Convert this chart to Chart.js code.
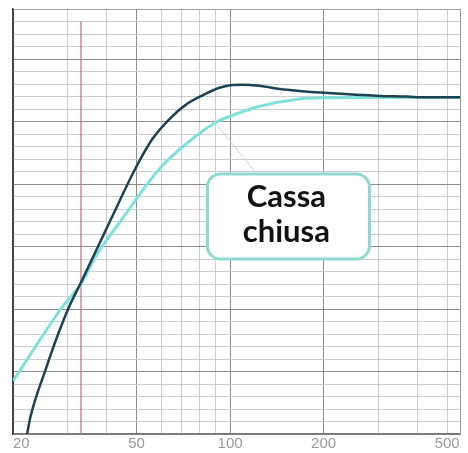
<!DOCTYPE html>
<html lang="it">
<head>
  <meta charset="UTF-8" />
  <title>Cassa chiusa</title>
  <script src="https://cdn.jsdelivr.net/npm/chart.js"></script>
  <style>
    html, body { margin: 0; padding: 0; background: #fff; }
    #wrap { width: 468px; height: 453px; }
  </style>
</head>
<body>
  <div id="wrap"><canvas id="chart" width="468" height="453"></canvas></div>

  <script>
    // frequenze (Hz) e livelli (dB relativi)
    const darkFreq  = [22.2, 22.8, 25.5, 27.8, 30.3, 33.1, 35.2, 37.9, 41.3, 49.8, 56.2, 63.8, 72.1, 81.6, 92.4, 101.8, 110, 124, 145, 167, 201, 304, 369, 400, 550];
    const darkLevel = [0, 1.44, 5.2, 7.84, 10.16, 12.12, 13.52, 15.2, 17.16, 21.34, 23.6, 25.2, 26.35, 27.1, 27.7, 27.92, 27.94, 27.86, 27.6, 27.45, 27.3, 27.05, 27.0, 26.95, 26.95];

    const cyanFreq  = [20, 23.7, 28.8, 33.1, 37.0, 44.9, 59.2, 72.1, 90.2, 104.6, 124, 167, 201, 275, 550];
    const cyanLevel = [4.24, 7.04, 10.16, 12.0, 14.24, 17.2, 21.2, 23.2, 24.94, 25.6, 26.2, 26.8, 26.9, 26.92, 26.92];

    // marcatore verticale rosso
    const markerFreq  = [33.1, 33.1];
    const markerLevel = [0, 33];

    // griglia asse x e etichette
    const gridFreqs   = [20, 30, 40, 50, 60, 70, 80, 90, 100, 200, 300, 400, 500, 550];
    const labelFreqs  = [20, 50, 100, 200, 500];
    const majorFreqs  = [50, 100, 200];

    const toPoints = (xs, ys) => xs.map((x, i) => ({ x: x, y: ys[i] }));

    // riquadro "Cassa chiusa" (in coordinate del grafico)
    const callout = {
      lines: ['Cassa', 'chiusa'],
      box: { x0: 84.5, x1: 281, y0: 14.0, y1: 20.8 },
      pointer: { x0: 87.7, y0: 25.2, x1: 122, y1: 20.8 }
    };

    const calloutPlugin = {
      id: 'callout',
      afterDatasetsDraw(chart) {
        const { ctx, scales: { x, y } } = chart;
        const b = callout.box, p = callout.pointer;
        ctx.save();
        // linea di richiamo
        ctx.strokeStyle = '#b9d9d9';
        ctx.lineWidth = 1;
        ctx.beginPath();
        ctx.moveTo(x.getPixelForValue(p.x0), y.getPixelForValue(p.y0));
        ctx.lineTo(x.getPixelForValue(p.x1), y.getPixelForValue(p.y1));
        ctx.stroke();
        // riquadro arrotondato
        const left = x.getPixelForValue(b.x0), right = x.getPixelForValue(b.x1);
        const top = y.getPixelForValue(b.y1), bottom = y.getPixelForValue(b.y0);
        ctx.beginPath();
        ctx.roundRect(left, top, right - left, bottom - top, 13);
        ctx.fillStyle = '#ffffff';
        ctx.fill();
        ctx.lineWidth = 3;
        ctx.strokeStyle = '#8fd9d3';
        ctx.stroke();
        // testo
        ctx.fillStyle = '#111';
        ctx.font = 'bold 31px Lato, "Open Sans", sans-serif';
        ctx.textAlign = 'center';
        ctx.textBaseline = 'alphabetic';
        const cx = (left + right) / 2 - 2;
        ctx.fillText(callout.lines[0], cx, top + 33);
        ctx.fillText(callout.lines[1], cx, top + 68);
        ctx.restore();
      }
    };

    new Chart(document.getElementById('chart'), {
      type: 'scatter',
      data: {
        datasets: [
          {
            data: toPoints(darkFreq, darkLevel),
            showLine: true,
            borderColor: '#1d4252',
            borderWidth: 2.5,
            pointRadius: 0,
            cubicInterpolationMode: 'monotone'
          },
          {
            data: toPoints(cyanFreq, cyanLevel),
            showLine: true,
            borderColor: '#80e0da',
            borderWidth: 3,
            pointRadius: 0,
            cubicInterpolationMode: 'monotone'
          },
          {
            data: toPoints(markerFreq, markerLevel),
            showLine: true,
            borderColor: '#c0707e',
            borderWidth: 1.2,
            pointRadius: 0
          }
        ]
      },
      options: {
        responsive: false,
        animation: false,
        layout: { padding: { left: 13, right: 8, top: 9, bottom: 0 } },
        plugins: {
          legend: { display: false },
          tooltip: { enabled: false }
        },
        scales: {
          x: {
            type: 'logarithmic',
            min: 20,
            max: 550,
            afterBuildTicks: (scale) => {
              scale.ticks = gridFreqs.map(v => ({ value: v }));
            },
            ticks: {
              autoSkip: false,
              maxRotation: 0,
              align: 'inner',
              padding: 1,
              color: '#9a9a9a',
              font: { family: '"Liberation Sans", Arial, sans-serif', size: 15, lineHeight: 1.13 },
              callback: (v) => labelFreqs.includes(v) ? String(v) : ''
            },
            grid: {
              drawTicks: false,
              lineWidth: 1,
              color: (c) => {
                const v = c.tick && c.tick.value;
                if (majorFreqs.includes(v)) return '#8c8c8c';
                if (v === 550) return '#9a9a9a';
                if (v === 20) return '#444';
                return '#cdcdcd';
              }
            },
            border: { display: true, color: '#777', width: 1.5 }
          },
          y: {
            min: 0,
            max: 34,
            ticks: { display: false, stepSize: 1 },
            grid: {
              drawTicks: false,
              lineWidth: 1,
              color: (c) => {
                const v = c.tick && c.tick.value;
                if (v === 34) return '#a0a0a0';
                return v % 5 === 0 ? '#8c8c8c' : '#cdcdcd';
              }
            },
            border: { display: true, color: '#444', width: 1.5 }
          }
        }
      },
      plugins: [calloutPlugin]
    });
  </script>
</body>
</html>
